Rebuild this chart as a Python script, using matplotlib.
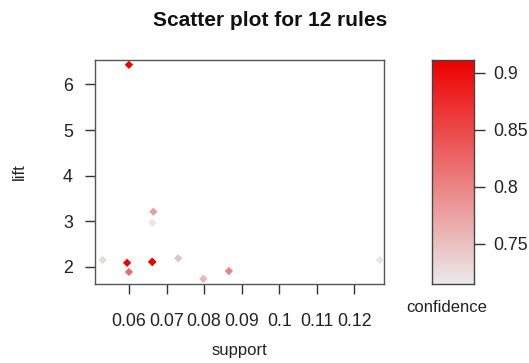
import matplotlib
matplotlib.use("Agg")
import matplotlib.pyplot as plt
from matplotlib.colors import LinearSegmentedColormap, Normalize
import numpy as np

plt.rcParams['font.family'] = ['Liberation Sans', 'DejaVu Sans']

support = [0.0600, 0.0530, 0.0595, 0.0600, 0.0665, 0.0662, 0.0662, 0.0731, 0.0798, 0.0866, 0.1268, 0.0662]
lift = [6.43, 2.15, 2.09, 1.89, 3.21, 2.97, 2.11, 2.19, 1.74, 1.91, 2.15, 2.11]
confidence = [0.91, 0.73, 0.91, 0.82, 0.78, 0.72, 0.91, 0.75, 0.76, 0.80, 0.72, 0.91]
x_ticks = [0.06, 0.07, 0.08, 0.09, 0.10, 0.11, 0.12]
x_ticklabels = ["0.06", "0.07", "0.08", "0.09", "0.1", "0.11", "0.12"]
y_ticks = [2, 3, 4, 5, 6]
cb_ticks = [0.75, 0.80, 0.85, 0.90]
cb_ticklabels = ["0.75", "0.8", "0.85", "0.9"]

W, H = 529, 363
fig = plt.figure(figsize=(W/100, H/100), dpi=100)

def rect(l, t, r, b):
    return [l/W, 1-b/H, (r-l)/W, (b-t)/H]

cmap = LinearSegmentedColormap.from_list("conf", ["#EAEAEA", "#EE0000"])
norm = Normalize(vmin=0.715, vmax=0.911)

ax = fig.add_axes(rect(95, 60, 384, 284))
ax.scatter(support, lift, c=confidence, cmap=cmap, norm=norm, marker='D', s=18, linewidths=0, zorder=3)
ax.set_xlim(0.05096, 0.1279)
ax.set_ylim(1.626, 6.535)
ax.set_xticks(x_ticks)
ax.set_xticklabels(x_ticklabels)
ax.set_yticks(y_ticks)
for s in ax.spines.values():
    s.set_color("#555555")
    s.set_linewidth(1.0)
ax.tick_params(axis='both', direction='out', length=7, width=1, color="#333333",
               labelsize=12.8, labelcolor="#222222")
ax.tick_params(axis='x', pad=14)
ax.tick_params(axis='y', pad=9)
ax.set_xlabel("support", fontsize=12, color="#222222", labelpad=9)
ax.set_ylabel("lift", fontsize=12, color="#222222", labelpad=26)

cax = fig.add_axes(rect(432, 60, 474, 284))
grad = np.linspace(0.715, 0.911, 256).reshape(-1, 1)
cax.imshow(grad, aspect='auto', cmap=cmap, norm=norm, origin='lower',
           extent=[0, 1, 0.715, 0.911])
cax.set_xlim(0, 1)
cax.set_ylim(0.715, 0.911)
cax.set_xticks([])
cax.yaxis.tick_right()
cax.set_yticks(cb_ticks)
cax.set_yticklabels(cb_ticklabels)
cax.tick_params(axis='y', direction='out', length=8, width=1, color="#333333",
                labelsize=12.8, labelcolor="#222222", pad=6)
for s in cax.spines.values():
    s.set_color("#444444")
    s.set_linewidth(1.0)
fig.text(447/W, 1-307/H, "confidence", fontsize=12, color="#222222", ha='center', va='center')

fig.text(270/W, 1-20/H, "Scatter plot for 12 rules", fontsize=15, fontweight='bold',
         color="#111111", ha='center', va='center')

fig.savefig("out.png", dpi=100)
